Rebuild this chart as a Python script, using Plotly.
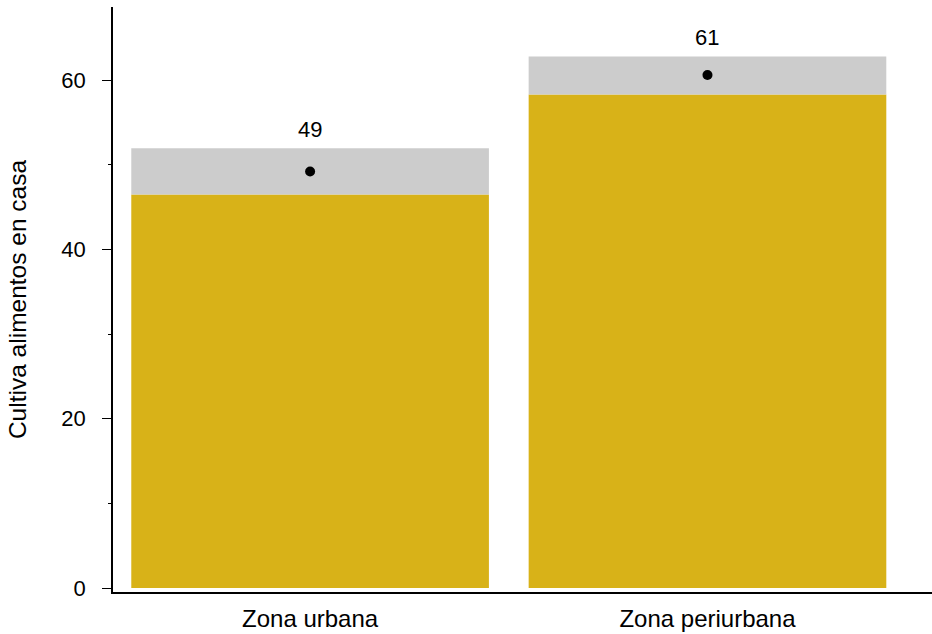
import plotly.graph_objects as go

categories = ["Zona urbana", "Zona periurbana"]
means = [49.2, 60.6]
lower = [46.5, 58.3]
upper = [51.95, 62.8]
labels = ["49", "61"]

GOLD = "#D8B218"
GREY = "#CCCCCC"
FONT = "Liberation Sans, Arial, Helvetica, sans-serif"

fig = go.Figure()
fig.add_trace(go.Bar(x=categories, y=lower, base=0, width=0.9,
                     marker=dict(color=GOLD, line=dict(width=0)), showlegend=False))
fig.add_trace(go.Bar(x=categories, y=[u - l for u, l in zip(upper, lower)], base=lower, width=0.9,
                     marker=dict(color=GREY, line=dict(width=0)), showlegend=False))
fig.add_trace(go.Scatter(x=categories, y=means, mode="markers",
                         marker=dict(color="black", size=10), showlegend=False))
for c, u, t in zip(categories, upper, labels):
    fig.add_annotation(x=c, y=u, text=t, showarrow=False, yanchor="bottom", yshift=4,
                       font=dict(size=22, color="black", family=FONT))

fig.update_layout(
    width=932, height=634,
    margin=dict(l=113, r=0, t=7, b=42),
    paper_bgcolor="white", plot_bgcolor="white",
    barmode="overlay",
    font=dict(family=FONT, color="black", size=22),
    xaxis=dict(range=[-0.496, 1.565], showline=True, linecolor="black", linewidth=1.5,
               ticks="", showgrid=False, zeroline=False,
               tickfont=dict(size=24), ticklabelstandoff=4),
    yaxis=dict(range=[-0.47, 68.64], showline=True, linecolor="black", linewidth=1.5,
               tickvals=[0, 20, 40, 60], ticks="outside", ticklen=9, tickwidth=1.2, tickcolor="black",
               minor=dict(tickvals=[10, 30, 50], ticks="outside", ticklen=3, tickcolor="black", tickwidth=1),
               showgrid=False, zeroline=False, tickfont=dict(size=22), ticklabelstandoff=12,
               title=dict(text="Cultiva alimentos en casa", font=dict(size=24.5), standoff=28)),
)
fig.write_html("out.html")
